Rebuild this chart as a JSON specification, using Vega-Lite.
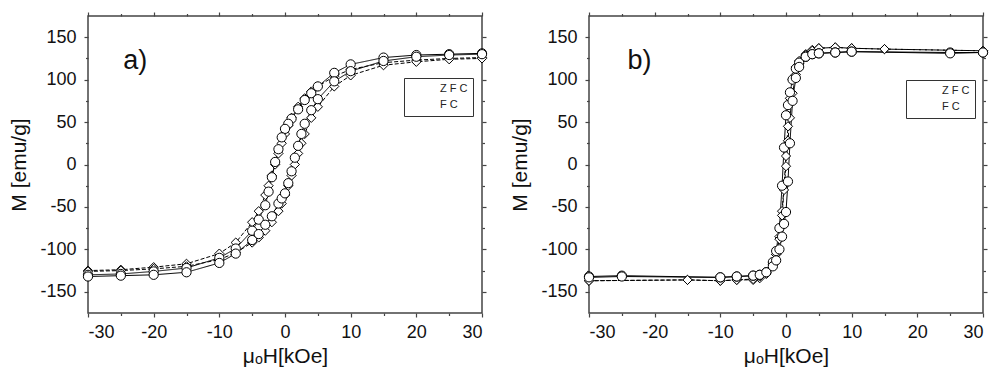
{
  "$schema": "https://vega.github.io/schema/vega-lite/v6.json",
  "background": "white",
  "padding": {"left": 8, "top": 10, "right": 5, "bottom": 5},
  "spacing": 107,
  "bounds": "flush",
  "resolve": {"scale": {"shape": "independent", "strokeDash": "independent"}, "legend": {"shape": "independent"}},
  "datasets": {
    "loops": [
      {"p":"a","s":"ZFC","b":"d","i":0,"H":30,"M":126},{"p":"a","s":"ZFC","b":"d","i":1,"H":25,"M":125},{"p":"a","s":"ZFC","b":"d","i":2,"H":20,"M":123},{"p":"a","s":"ZFC","b":"d","i":3,"H":15,"M":120},{"p":"a","s":"ZFC","b":"d","i":4,"H":10,"M":112},{"p":"a","s":"ZFC","b":"d","i":5,"H":7.5,"M":104},{"p":"a","s":"ZFC","b":"d","i":6,"H":5,"M":92},{"p":"a","s":"ZFC","b":"d","i":7,"H":4,"M":86},{"p":"a","s":"ZFC","b":"d","i":8,"H":3,"M":78},{"p":"a","s":"ZFC","b":"d","i":9,"H":2,"M":68},{"p":"a","s":"ZFC","b":"d","i":10,"H":1,"M":55},{"p":"a","s":"ZFC","b":"d","i":11,"H":0.5,"M":46},{"p":"a","s":"ZFC","b":"d","i":12,"H":0,"M":36},{"p":"a","s":"ZFC","b":"d","i":13,"H":-0.5,"M":25},{"p":"a","s":"ZFC","b":"d","i":14,"H":-1,"M":13},{"p":"a","s":"ZFC","b":"d","i":15,"H":-1.5,"M":0},{"p":"a","s":"ZFC","b":"d","i":16,"H":-2,"M":-13},{"p":"a","s":"ZFC","b":"d","i":17,"H":-2.5,"M":-25},{"p":"a","s":"ZFC","b":"d","i":18,"H":-3,"M":-36},{"p":"a","s":"ZFC","b":"d","i":19,"H":-4,"M":-55},{"p":"a","s":"ZFC","b":"d","i":20,"H":-5,"M":-68},{"p":"a","s":"ZFC","b":"d","i":21,"H":-7.5,"M":-92},{"p":"a","s":"ZFC","b":"d","i":22,"H":-10,"M":-105},{"p":"a","s":"ZFC","b":"d","i":23,"H":-15,"M":-117},{"p":"a","s":"ZFC","b":"d","i":24,"H":-20,"M":-121},{"p":"a","s":"ZFC","b":"d","i":25,"H":-25,"M":-124},{"p":"a","s":"ZFC","b":"d","i":26,"H":-30,"M":-125},
      {"p":"a","s":"ZFC","b":"u","i":0,"H":-30,"M":-126},{"p":"a","s":"ZFC","b":"u","i":1,"H":-25,"M":-125},{"p":"a","s":"ZFC","b":"u","i":2,"H":-20,"M":-123},{"p":"a","s":"ZFC","b":"u","i":3,"H":-15,"M":-120},{"p":"a","s":"ZFC","b":"u","i":4,"H":-10,"M":-112},{"p":"a","s":"ZFC","b":"u","i":5,"H":-7.5,"M":-104},{"p":"a","s":"ZFC","b":"u","i":6,"H":-5,"M":-92},{"p":"a","s":"ZFC","b":"u","i":7,"H":-4,"M":-86},{"p":"a","s":"ZFC","b":"u","i":8,"H":-3,"M":-78},{"p":"a","s":"ZFC","b":"u","i":9,"H":-2,"M":-68},{"p":"a","s":"ZFC","b":"u","i":10,"H":-1,"M":-55},{"p":"a","s":"ZFC","b":"u","i":11,"H":-0.5,"M":-46},{"p":"a","s":"ZFC","b":"u","i":12,"H":0,"M":-36},{"p":"a","s":"ZFC","b":"u","i":13,"H":0.5,"M":-25},{"p":"a","s":"ZFC","b":"u","i":14,"H":1,"M":-13},{"p":"a","s":"ZFC","b":"u","i":15,"H":1.5,"M":0},{"p":"a","s":"ZFC","b":"u","i":16,"H":2,"M":13},{"p":"a","s":"ZFC","b":"u","i":17,"H":2.5,"M":25},{"p":"a","s":"ZFC","b":"u","i":18,"H":3,"M":36},{"p":"a","s":"ZFC","b":"u","i":19,"H":4,"M":55},{"p":"a","s":"ZFC","b":"u","i":20,"H":5,"M":68},{"p":"a","s":"ZFC","b":"u","i":21,"H":7.5,"M":92},{"p":"a","s":"ZFC","b":"u","i":22,"H":10,"M":105},{"p":"a","s":"ZFC","b":"u","i":23,"H":15,"M":117},{"p":"a","s":"ZFC","b":"u","i":24,"H":20,"M":121},{"p":"a","s":"ZFC","b":"u","i":25,"H":25,"M":124},{"p":"a","s":"ZFC","b":"u","i":26,"H":30,"M":125},
      {"p":"a","s":"FC","b":"d","i":0,"H":30,"M":131},{"p":"a","s":"FC","b":"d","i":1,"H":25,"M":130},{"p":"a","s":"FC","b":"d","i":2,"H":20,"M":129},{"p":"a","s":"FC","b":"d","i":3,"H":15,"M":126},{"p":"a","s":"FC","b":"d","i":4,"H":10,"M":118},{"p":"a","s":"FC","b":"d","i":5,"H":7.5,"M":108},{"p":"a","s":"FC","b":"d","i":6,"H":5,"M":92},{"p":"a","s":"FC","b":"d","i":7,"H":4,"M":84},{"p":"a","s":"FC","b":"d","i":8,"H":3,"M":76},{"p":"a","s":"FC","b":"d","i":9,"H":2,"M":65},{"p":"a","s":"FC","b":"d","i":10,"H":1,"M":54},{"p":"a","s":"FC","b":"d","i":11,"H":0.5,"M":48},{"p":"a","s":"FC","b":"d","i":12,"H":0,"M":42},{"p":"a","s":"FC","b":"d","i":13,"H":-0.5,"M":32},{"p":"a","s":"FC","b":"d","i":14,"H":-1,"M":18},{"p":"a","s":"FC","b":"d","i":15,"H":-1.5,"M":3},{"p":"a","s":"FC","b":"d","i":16,"H":-2,"M":-15},{"p":"a","s":"FC","b":"d","i":17,"H":-2.5,"M":-32},{"p":"a","s":"FC","b":"d","i":18,"H":-3,"M":-48},{"p":"a","s":"FC","b":"d","i":19,"H":-4,"M":-65},{"p":"a","s":"FC","b":"d","i":20,"H":-5,"M":-78},{"p":"a","s":"FC","b":"d","i":21,"H":-7.5,"M":-99},{"p":"a","s":"FC","b":"d","i":22,"H":-10,"M":-110},{"p":"a","s":"FC","b":"d","i":23,"H":-15,"M":-122},{"p":"a","s":"FC","b":"d","i":24,"H":-20,"M":-126},{"p":"a","s":"FC","b":"d","i":25,"H":-25,"M":-129},{"p":"a","s":"FC","b":"d","i":26,"H":-30,"M":-130},
      {"p":"a","s":"FC","b":"u","i":0,"H":-30,"M":-132},{"p":"a","s":"FC","b":"u","i":1,"H":-25,"M":-131},{"p":"a","s":"FC","b":"u","i":2,"H":-20,"M":-130},{"p":"a","s":"FC","b":"u","i":3,"H":-15,"M":-127},{"p":"a","s":"FC","b":"u","i":4,"H":-10,"M":-116},{"p":"a","s":"FC","b":"u","i":5,"H":-7.5,"M":-105},{"p":"a","s":"FC","b":"u","i":6,"H":-5,"M":-89},{"p":"a","s":"FC","b":"u","i":7,"H":-4,"M":-82},{"p":"a","s":"FC","b":"u","i":8,"H":-3,"M":-71},{"p":"a","s":"FC","b":"u","i":9,"H":-2,"M":-61},{"p":"a","s":"FC","b":"u","i":10,"H":-1,"M":-46},{"p":"a","s":"FC","b":"u","i":11,"H":-0.5,"M":-40},{"p":"a","s":"FC","b":"u","i":12,"H":0,"M":-34},{"p":"a","s":"FC","b":"u","i":13,"H":0.5,"M":-22},{"p":"a","s":"FC","b":"u","i":14,"H":1,"M":-8},{"p":"a","s":"FC","b":"u","i":15,"H":1.5,"M":8},{"p":"a","s":"FC","b":"u","i":16,"H":2,"M":22},{"p":"a","s":"FC","b":"u","i":17,"H":2.5,"M":36},{"p":"a","s":"FC","b":"u","i":18,"H":3,"M":48},{"p":"a","s":"FC","b":"u","i":19,"H":4,"M":64},{"p":"a","s":"FC","b":"u","i":20,"H":5,"M":77},{"p":"a","s":"FC","b":"u","i":21,"H":7.5,"M":98},{"p":"a","s":"FC","b":"u","i":22,"H":10,"M":110},{"p":"a","s":"FC","b":"u","i":23,"H":15,"M":122},{"p":"a","s":"FC","b":"u","i":24,"H":20,"M":127},{"p":"a","s":"FC","b":"u","i":25,"H":25,"M":129},{"p":"a","s":"FC","b":"u","i":26,"H":30,"M":130},
      {"p":"b","s":"ZFC","b":"d","i":0,"H":30,"M":134},{"p":"b","s":"ZFC","b":"d","i":3,"H":15,"M":136},{"p":"b","s":"ZFC","b":"d","i":4,"H":10,"M":137},{"p":"b","s":"ZFC","b":"d","i":5,"H":7.5,"M":138},{"p":"b","s":"ZFC","b":"d","i":6,"H":5,"M":137},{"p":"b","s":"ZFC","b":"d","i":7,"H":4,"M":135},{"p":"b","s":"ZFC","b":"d","i":8,"H":3,"M":130},{"p":"b","s":"ZFC","b":"d","i":9,"H":2,"M":122},{"p":"b","s":"ZFC","b":"d","i":10,"H":1.5,"M":115},{"p":"b","s":"ZFC","b":"d","i":11,"H":1,"M":100},{"p":"b","s":"ZFC","b":"d","i":12,"H":0.6,"M":78},{"p":"b","s":"ZFC","b":"d","i":13,"H":0.3,"M":45},{"p":"b","s":"ZFC","b":"d","i":14,"H":0,"M":10},{"p":"b","s":"ZFC","b":"d","i":15,"H":-0.3,"M":-25},{"p":"b","s":"ZFC","b":"d","i":16,"H":-0.6,"M":-55},{"p":"b","s":"ZFC","b":"d","i":17,"H":-1,"M":-85},{"p":"b","s":"ZFC","b":"d","i":18,"H":-1.5,"M":-106},{"p":"b","s":"ZFC","b":"d","i":19,"H":-2,"M":-118},{"p":"b","s":"ZFC","b":"d","i":20,"H":-3,"M":-129},{"p":"b","s":"ZFC","b":"d","i":21,"H":-4,"M":-134},{"p":"b","s":"ZFC","b":"d","i":22,"H":-5,"M":-136},{"p":"b","s":"ZFC","b":"d","i":23,"H":-7.5,"M":-136},{"p":"b","s":"ZFC","b":"d","i":24,"H":-10,"M":-137},{"p":"b","s":"ZFC","b":"d","i":25,"H":-15,"M":-136},{"p":"b","s":"ZFC","b":"d","i":28,"H":-30,"M":-137},
      {"p":"b","s":"ZFC","b":"u","i":0,"H":-30,"M":-137},{"p":"b","s":"ZFC","b":"u","i":3,"H":-15,"M":-136},{"p":"b","s":"ZFC","b":"u","i":4,"H":-10,"M":-137},{"p":"b","s":"ZFC","b":"u","i":5,"H":-7.5,"M":-136},{"p":"b","s":"ZFC","b":"u","i":6,"H":-5,"M":-135},{"p":"b","s":"ZFC","b":"u","i":7,"H":-4,"M":-132},{"p":"b","s":"ZFC","b":"u","i":8,"H":-3,"M":-127},{"p":"b","s":"ZFC","b":"u","i":9,"H":-2,"M":-116},{"p":"b","s":"ZFC","b":"u","i":10,"H":-1.5,"M":-106},{"p":"b","s":"ZFC","b":"u","i":11,"H":-1,"M":-88},{"p":"b","s":"ZFC","b":"u","i":12,"H":-0.6,"M":-60},{"p":"b","s":"ZFC","b":"u","i":13,"H":-0.3,"M":-30},{"p":"b","s":"ZFC","b":"u","i":14,"H":0,"M":-2},{"p":"b","s":"ZFC","b":"u","i":15,"H":0.3,"M":28},{"p":"b","s":"ZFC","b":"u","i":16,"H":0.6,"M":55},{"p":"b","s":"ZFC","b":"u","i":17,"H":1,"M":84},{"p":"b","s":"ZFC","b":"u","i":18,"H":1.5,"M":106},{"p":"b","s":"ZFC","b":"u","i":19,"H":2,"M":119},{"p":"b","s":"ZFC","b":"u","i":20,"H":3,"M":129},{"p":"b","s":"ZFC","b":"u","i":21,"H":4,"M":134},{"p":"b","s":"ZFC","b":"u","i":22,"H":5,"M":137},{"p":"b","s":"ZFC","b":"u","i":23,"H":7.5,"M":138},{"p":"b","s":"ZFC","b":"u","i":24,"H":10,"M":137},{"p":"b","s":"ZFC","b":"u","i":25,"H":15,"M":136},{"p":"b","s":"ZFC","b":"u","i":28,"H":30,"M":134},
      {"p":"b","s":"FC","b":"d","i":0,"H":30,"M":132},{"p":"b","s":"FC","b":"d","i":1,"H":25,"M":132},{"p":"b","s":"FC","b":"d","i":4,"H":10,"M":133},{"p":"b","s":"FC","b":"d","i":5,"H":7.5,"M":132},{"p":"b","s":"FC","b":"d","i":6,"H":5,"M":131},{"p":"b","s":"FC","b":"d","i":7,"H":4,"M":130},{"p":"b","s":"FC","b":"d","i":8,"H":3,"M":127},{"p":"b","s":"FC","b":"d","i":9,"H":2,"M":120},{"p":"b","s":"FC","b":"d","i":10,"H":1.5,"M":113},{"p":"b","s":"FC","b":"d","i":11,"H":1,"M":100},{"p":"b","s":"FC","b":"d","i":12,"H":0.6,"M":85},{"p":"b","s":"FC","b":"d","i":13,"H":0.3,"M":70},{"p":"b","s":"FC","b":"d","i":14,"H":0,"M":58},{"p":"b","s":"FC","b":"d","i":15,"H":-0.3,"M":20},{"p":"b","s":"FC","b":"d","i":16,"H":-0.6,"M":-25},{"p":"b","s":"FC","b":"d","i":17,"H":-1,"M":-75},{"p":"b","s":"FC","b":"d","i":18,"H":-1.5,"M":-102},{"p":"b","s":"FC","b":"d","i":19,"H":-2,"M":-115},{"p":"b","s":"FC","b":"d","i":20,"H":-3,"M":-127},{"p":"b","s":"FC","b":"d","i":21,"H":-4,"M":-130},{"p":"b","s":"FC","b":"d","i":22,"H":-5,"M":-131},{"p":"b","s":"FC","b":"d","i":23,"H":-7.5,"M":-132},{"p":"b","s":"FC","b":"d","i":24,"H":-10,"M":-133},{"p":"b","s":"FC","b":"d","i":27,"H":-25,"M":-131},{"p":"b","s":"FC","b":"d","i":28,"H":-30,"M":-132},
      {"p":"b","s":"FC","b":"u","i":0,"H":-30,"M":-133},{"p":"b","s":"FC","b":"u","i":1,"H":-25,"M":-132},{"p":"b","s":"FC","b":"u","i":4,"H":-10,"M":-133},{"p":"b","s":"FC","b":"u","i":5,"H":-7.5,"M":-132},{"p":"b","s":"FC","b":"u","i":6,"H":-5,"M":-131},{"p":"b","s":"FC","b":"u","i":7,"H":-4,"M":-130},{"p":"b","s":"FC","b":"u","i":8,"H":-3,"M":-127},{"p":"b","s":"FC","b":"u","i":9,"H":-2,"M":-120},{"p":"b","s":"FC","b":"u","i":10,"H":-1.5,"M":-113},{"p":"b","s":"FC","b":"u","i":11,"H":-1,"M":-100},{"p":"b","s":"FC","b":"u","i":12,"H":-0.6,"M":-85},{"p":"b","s":"FC","b":"u","i":13,"H":-0.3,"M":-70},{"p":"b","s":"FC","b":"u","i":14,"H":0,"M":-56},{"p":"b","s":"FC","b":"u","i":15,"H":0.3,"M":-20},{"p":"b","s":"FC","b":"u","i":16,"H":0.6,"M":25},{"p":"b","s":"FC","b":"u","i":17,"H":1,"M":75},{"p":"b","s":"FC","b":"u","i":18,"H":1.5,"M":102},{"p":"b","s":"FC","b":"u","i":19,"H":2,"M":115},{"p":"b","s":"FC","b":"u","i":20,"H":3,"M":127},{"p":"b","s":"FC","b":"u","i":21,"H":4,"M":130},{"p":"b","s":"FC","b":"u","i":22,"H":5,"M":131},{"p":"b","s":"FC","b":"u","i":23,"H":7.5,"M":132},{"p":"b","s":"FC","b":"u","i":24,"H":10,"M":133},{"p":"b","s":"FC","b":"u","i":27,"H":25,"M":131},{"p":"b","s":"FC","b":"u","i":28,"H":30,"M":132}
    ],
    "tags": [
      {"p":"a","t":"a)","H":-22.8,"M":122},
      {"p":"b","t":"b)","H":-22.3,"M":122}
    ]
  },
  "hconcat": [
    {
      "width": 394, "height": 297,
      "layer": [
        {"data": {"name": "loops"}, "transform": [{"filter": "datum.p === 'a'"}],
         "mark": {"type": "line", "color": "black", "strokeWidth": 1},
         "encoding": {
           "x": {"field": "H", "type": "quantitative", "scale": {"domain": [-30, 30], "nice": false, "zero": false},
             "axis": {"orient": "bottom", "values": [-30,-25,-20,-15,-10,-5,0,5,10,15,20,25,30], "labelExpr": "datum.value % 10 === 0 ? '' + datum.value : ''", "tickSize": {"condition": {"test": "datum.value % 10 === 0", "value": 4}, "value": 2.5}, "labelPadding": 6, "title": "μₒH[kOe]", "titlePadding": 4}},
           "y": {"field": "M", "type": "quantitative", "scale": {"domain": [-175, 175], "nice": false, "zero": false},
             "axis": {"orient": "left", "values": [-150,-125,-100,-75,-50,-25,0,25,50,75,100,125,150], "labelExpr": "datum.value % 50 === 0 ? '' + datum.value : ''", "tickSize": {"condition": {"test": "datum.value % 50 === 0", "value": 4}, "value": 2.5}, "labelPadding": 8, "title": "M [emu/g]", "titlePadding": 10}},
           "detail": {"field": "b"},
           "order": {"field": "i"},
           "strokeDash": {"field": "s", "type": "nominal", "scale": {"domain": ["FC", "ZFC"], "range": [[1, 0], [4, 2]]}, "legend": null}
         }},
        {"data": {"name": "loops"}, "transform": [{"filter": "datum.p === 'a'"}],
         "mark": {"type": "point", "filled": false, "fill": "white", "fillOpacity": 1, "stroke": "black", "strokeWidth": 1, "opacity": 1, "size": 85},
         "encoding": {
           "x": {"field": "H", "type": "quantitative", "scale": {"domain": [-30, 30], "nice": false, "zero": false},
             "axis": {"orient": "top", "values": [-30,-25,-20,-15,-10,-5,0,5,10,15,20,25,30], "labels": false, "tickSize": {"condition": {"test": "datum.value % 10 === 0", "value": 4}, "value": 2.5}, "title": null}},
           "y": {"field": "M", "type": "quantitative", "scale": {"domain": [-175, 175], "nice": false, "zero": false},
             "axis": {"orient": "right", "values": [-150,-125,-100,-75,-50,-25,0,25,50,75,100,125,150], "labels": false, "tickSize": {"condition": {"test": "datum.value % 50 === 0", "value": 4}, "value": 2.5}, "title": null}},
           "shape": {"field": "s", "type": "nominal", "scale": {"domain": ["ZFC", "FC"], "range": ["diamond", "circle"]},
             "legend": {"orient": "none", "legendX": 316, "legendY": 62, "title": null, "fillColor": "white", "strokeColor": "#333", "padding": 5, "symbolSize": 70, "symbolStrokeColor": "black", "symbolFillColor": "white", "symbolStrokeWidth": 1, "symbolOpacity": 1, "labelFont": "Liberation Sans", "labelFontSize": 11, "labelColor": "#222", "labelOffset": 12, "symbolOffset": 8, "rowPadding": 3, "labelExpr": "datum.label === 'ZFC' ? 'Z F C' : 'F C'"}}
         }},
        {"mark": {"type": "rule", "color": "#333", "strokeWidth": 1}, "encoding": {"y": {"datum": 0, "type": "quantitative", "axis": null}}},
        {"mark": {"type": "rule", "color": "#333", "strokeWidth": 1}, "encoding": {"x": {"datum": 0, "type": "quantitative", "axis": null}}},
        {"data": {"name": "tags"}, "transform": [{"filter": "datum.p === 'a'"}],
         "mark": {"type": "text", "fontSize": 27, "font": "Liberation Sans", "color": "#111", "baseline": "middle", "align": "center"},
         "encoding": {"x": {"field": "H", "type": "quantitative", "axis": null}, "y": {"field": "M", "type": "quantitative", "axis": null}, "text": {"field": "t"}}}
      ],
      "resolve": {"axis": {"x": "independent", "y": "independent"}}
    },
    {
      "width": 394, "height": 297,
      "layer": [
        {"data": {"name": "loops"}, "transform": [{"filter": "datum.p === 'b'"}],
         "mark": {"type": "line", "color": "black", "strokeWidth": 1},
         "encoding": {
           "x": {"field": "H", "type": "quantitative", "scale": {"domain": [-30, 30], "nice": false, "zero": false},
             "axis": {"orient": "bottom", "values": [-30,-25,-20,-15,-10,-5,0,5,10,15,20,25,30], "labelExpr": "datum.value % 10 === 0 ? '' + datum.value : ''", "tickSize": {"condition": {"test": "datum.value % 10 === 0", "value": 4}, "value": 2.5}, "labelPadding": 6, "title": "μₒH[kOe]", "titlePadding": 4}},
           "y": {"field": "M", "type": "quantitative", "scale": {"domain": [-175, 175], "nice": false, "zero": false},
             "axis": {"orient": "left", "values": [-150,-125,-100,-75,-50,-25,0,25,50,75,100,125,150], "labelExpr": "datum.value % 50 === 0 ? '' + datum.value : ''", "tickSize": {"condition": {"test": "datum.value % 50 === 0", "value": 4}, "value": 2.5}, "labelPadding": 8, "title": "M [emu/g]", "titlePadding": 10}},
           "detail": {"field": "b"},
           "order": {"field": "i"},
           "strokeDash": {"field": "s", "type": "nominal", "scale": {"domain": ["FC", "ZFC"], "range": [[1, 0], [4, 2]]}, "legend": null}
         }},
        {"data": {"name": "loops"}, "transform": [{"filter": "datum.p === 'b'"}],
         "mark": {"type": "point", "filled": false, "fill": "white", "fillOpacity": 1, "stroke": "black", "strokeWidth": 1, "opacity": 1, "size": 85},
         "encoding": {
           "x": {"field": "H", "type": "quantitative", "scale": {"domain": [-30, 30], "nice": false, "zero": false},
             "axis": {"orient": "top", "values": [-30,-25,-20,-15,-10,-5,0,5,10,15,20,25,30], "labels": false, "tickSize": {"condition": {"test": "datum.value % 10 === 0", "value": 4}, "value": 2.5}, "title": null}},
           "y": {"field": "M", "type": "quantitative", "scale": {"domain": [-175, 175], "nice": false, "zero": false},
             "axis": {"orient": "right", "values": [-150,-125,-100,-75,-50,-25,0,25,50,75,100,125,150], "labels": false, "tickSize": {"condition": {"test": "datum.value % 50 === 0", "value": 4}, "value": 2.5}, "title": null}},
           "shape": {"field": "s", "type": "nominal", "scale": {"domain": ["ZFC", "FC"], "range": ["diamond", "circle"]},
             "legend": {"orient": "none", "legendX": 317, "legendY": 64, "title": null, "fillColor": "white", "strokeColor": "#333", "padding": 5, "symbolSize": 70, "symbolStrokeColor": "black", "symbolFillColor": "white", "symbolStrokeWidth": 1, "symbolOpacity": 1, "labelFont": "Liberation Sans", "labelFontSize": 11, "labelColor": "#222", "labelOffset": 12, "symbolOffset": 8, "rowPadding": 3, "labelExpr": "datum.label === 'ZFC' ? 'Z F C' : 'F C'"}}
         }},
        {"mark": {"type": "rule", "color": "#333", "strokeWidth": 1}, "encoding": {"y": {"datum": 0, "type": "quantitative", "axis": null}}},
        {"mark": {"type": "rule", "color": "#333", "strokeWidth": 1}, "encoding": {"x": {"datum": 0, "type": "quantitative", "axis": null}}},
        {"data": {"name": "tags"}, "transform": [{"filter": "datum.p === 'b'"}],
         "mark": {"type": "text", "fontSize": 27, "font": "Liberation Sans", "color": "#111", "baseline": "middle", "align": "center"},
         "encoding": {"x": {"field": "H", "type": "quantitative", "axis": null}, "y": {"field": "M", "type": "quantitative", "axis": null}, "text": {"field": "t"}}}
      ],
      "resolve": {"axis": {"x": "independent", "y": "independent"}}
    }
  ],
  "config": {
    "font": "Liberation Sans",
    "view": {"stroke": "#444", "strokeWidth": 1.5},
    "axis": {"domain": false, "grid": false, "tickColor": "#444", "tickWidth": 1.2, "labelFont": "Liberation Sans", "labelFontSize": 18, "labelColor": "#111", "titleFont": "Liberation Sans", "titleFontSize": 21, "titleFontWeight": "normal", "titleColor": "#111"}
  }
}
